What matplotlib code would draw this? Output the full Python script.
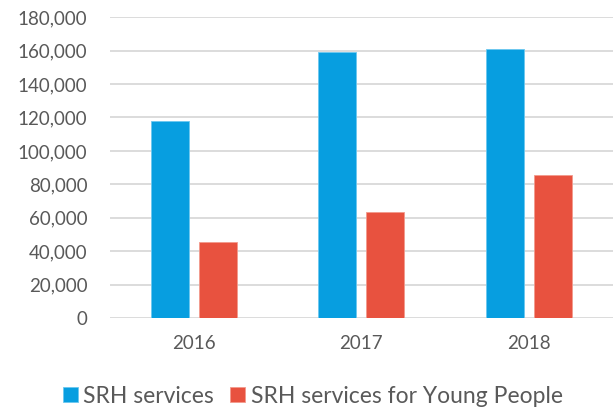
import numpy as np
from matplotlib import pyplot as plt
from matplotlib.ticker import FuncFormatter

years = ['2016', '2017', '2018']
srh_services = [118000, 159400, 161200]
srh_young = [45400, 63200, 85400]

plt.rcParams['font.family'] = ['Lato', 'DejaVu Sans']

blue = '#079ee0'
red = '#e8523f'
grey = '#595959'

fig = plt.figure(figsize=(6.13, 4.17), dpi=100)
ax = fig.add_axes([0.179, 0.237, 0.821, 0.722])

x = np.arange(len(years))
w = 0.227
ax.bar(x - 0.143, srh_services, w, color=blue, edgecolor='#6cc8ef', linewidth=0.6,
       label='SRH services', zorder=3)
ax.bar(x + 0.143, srh_young, w, color=red, edgecolor='#f29a8d', linewidth=0.6,
       label='SRH services for Young People', zorder=3)

ax.set_xlim(-0.5, 2.5)
ax.set_ylim(0, 180000)
ax.set_yticks(np.arange(0, 180001, 20000))
ax.yaxis.set_major_formatter(FuncFormatter(lambda v, p: f'{int(v):,}'))
ax.set_xticks(x)
ax.set_xticklabels(years)

ax.grid(axis='y', color='#d9d9d9', linewidth=1.3, zorder=0)
for s in ax.spines.values():
    s.set_visible(False)
ax.tick_params(length=0, labelsize=13.5, colors=grey)
ax.tick_params(axis='x', pad=12)
ax.tick_params(axis='y', pad=16)

fig.legend(loc='lower center', ncol=2, frameon=False, fontsize=16.5,
           bbox_to_anchor=(0.51, -0.025), handlelength=0.65, handleheight=0.65,
           handletextpad=0.25, columnspacing=0.7, labelcolor=grey)

plt.savefig('out.png', dpi=100)
